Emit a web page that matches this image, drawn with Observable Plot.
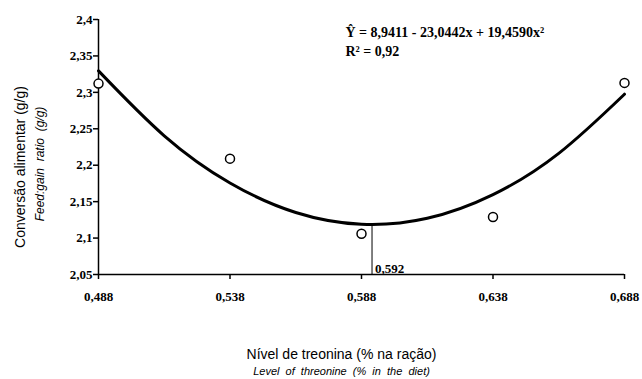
<!DOCTYPE html>
<html><head><meta charset="utf-8">
<script src="https://cdn.jsdelivr.net/npm/d3@7"></script>
<script src="https://cdn.jsdelivr.net/npm/@observablehq/plot@0.6"></script>
<style>body{margin:0;background:#fff}</style>
</head><body><div id="chart"></div>
<script>
// Observed treatment means
const levels = [0.488, 0.538, 0.588, 0.638, 0.688];
const observed = [2.312, 2.209, 2.106, 2.129, 2.313];
// Fitted quadratic curve, read at regular points
const fitX = [0.488, 0.513, 0.538, 0.563, 0.588, 0.613, 0.638, 0.663, 0.688];
const fitY = [2.3295, 2.2404, 2.1756, 2.1351, 2.1189, 2.1271, 2.1596, 2.2163, 2.2975];
const optimumX = 0.592;
const optimumY = 2.1186;
const optimumLabel = "0,592";
// Ticks
const xTicks = [0.488, 0.538, 0.588, 0.638, 0.688];
const xTickLabels = ["0,488", "0,538", "0,588", "0,638", "0,688"];
const yTicks = [2.05, 2.1, 2.15, 2.2, 2.25, 2.3, 2.35, 2.4];
const yTickLabels = ["2,05", "2,1", "2,15", "2,2", "2,25", "2,3", "2,35", "2,4"];
// Texts
const yTitle = "Conversão alimentar (g/g)";
const yTitleEn = "Feed:gain  ratio  (g/g)";
const xTitle = "Nível de treonina (% na ração)";
const xTitleEn = "Level  of  threonine  (%  in  the  diet)";
const equation = "Ŷ = 8,9411 - 23,0442x + 19,4590x²";
const r2 = "R² = 0,92";

const points = levels.map((x, i) => ({x, y: observed[i]}));
const fit = fitX.map((x, i) => ({x, y: fitY[i]}));

const serif = "Liberation Serif, Times New Roman, serif";
const sans = "Liberation Sans, Arial, sans-serif";

const chart = Plot.plot({
  width: 642,
  height: 379,
  marginLeft: 98,
  marginRight: 18,
  marginTop: 19,
  marginBottom: 105,
  style: {fontFamily: serif, fontSize: "13px", fontWeight: "bold", color: "black", background: "white"},
  x: {domain: [0.488, 0.688]},
  y: {domain: [2.05, 2.4]},
  marks: [
    Plot.axisX({ticks: xTicks, tickFormat: () => "", tickSize: 5, label: null, strokeWidth: 1.5}),
    Plot.axisY({ticks: yTicks, tickFormat: () => "", tickSize: 5, label: null, strokeWidth: 1.5}),
    Plot.text(xTicks, {x: d => d, text: (d, i) => xTickLabels[i], frameAnchor: "bottom", lineAnchor: "middle", textAnchor: "middle", dy: 22,
      fontFamily: serif, fontSize: 13, fontWeight: "bold"}),
    Plot.text(yTicks, {y: d => d, text: (d, i) => yTickLabels[i], frameAnchor: "left", lineAnchor: "middle", textAnchor: "end", dx: -6,
      fontFamily: serif, fontSize: 13, fontWeight: "bold"}),
    Plot.ruleY([2.05], {stroke: "black", strokeWidth: 1.5}),
    Plot.ruleX([0.488], {stroke: "black", strokeWidth: 1.5}),
    Plot.ruleX([optimumX], {y1: 2.05, y2: optimumY, stroke: "black", strokeWidth: 1}),
    Plot.text([optimumLabel], {x: () => optimumX, y: () => 2.05, text: d => d, textAnchor: "start", lineAnchor: "middle", dx: 3, dy: -6, fontSize: 13, fontWeight: "bold", fontFamily: serif}),
    Plot.line(fit, {x: "x", y: "y", curve: "natural", stroke: "black", strokeWidth: 3}),
    Plot.dot(points, {x: "x", y: "y", r: 4.5, stroke: "black", fill: "white", strokeWidth: 1.5}),
    Plot.text([equation], {frameAnchor: "top-left", dx: 247, dy: 13, textAnchor: "start", lineAnchor: "middle", fontSize: 14, fontWeight: "bold", fontFamily: serif}),
    Plot.text([r2], {frameAnchor: "top-left", dx: 247, dy: 32, textAnchor: "start", lineAnchor: "middle", fontSize: 14, fontWeight: "bold", fontFamily: serif}),
    Plot.text([yTitle], {frameAnchor: "left", rotate: -90, dx: -78, dy: 20, textAnchor: "middle", lineAnchor: "middle", fontSize: 14, fontWeight: "normal", fontFamily: sans}),
    Plot.text([yTitleEn], {frameAnchor: "left", rotate: -90, dx: -58, dy: 17, textAnchor: "middle", lineAnchor: "middle", fontSize: 12, fontWeight: "normal", fontStyle: "italic", fontFamily: sans}),
    Plot.text([xTitle], {frameAnchor: "bottom", dx: -20, dy: 80, textAnchor: "middle", lineAnchor: "middle", fontSize: 14, fontWeight: "normal", fontFamily: sans}),
    Plot.text([xTitleEn], {frameAnchor: "bottom", dx: -20, dy: 97, textAnchor: "middle", lineAnchor: "middle", fontSize: 11, fontWeight: "normal", fontStyle: "italic", fontFamily: sans})
  ]
});
document.getElementById("chart").appendChild(chart);
</script>
</body></html>
